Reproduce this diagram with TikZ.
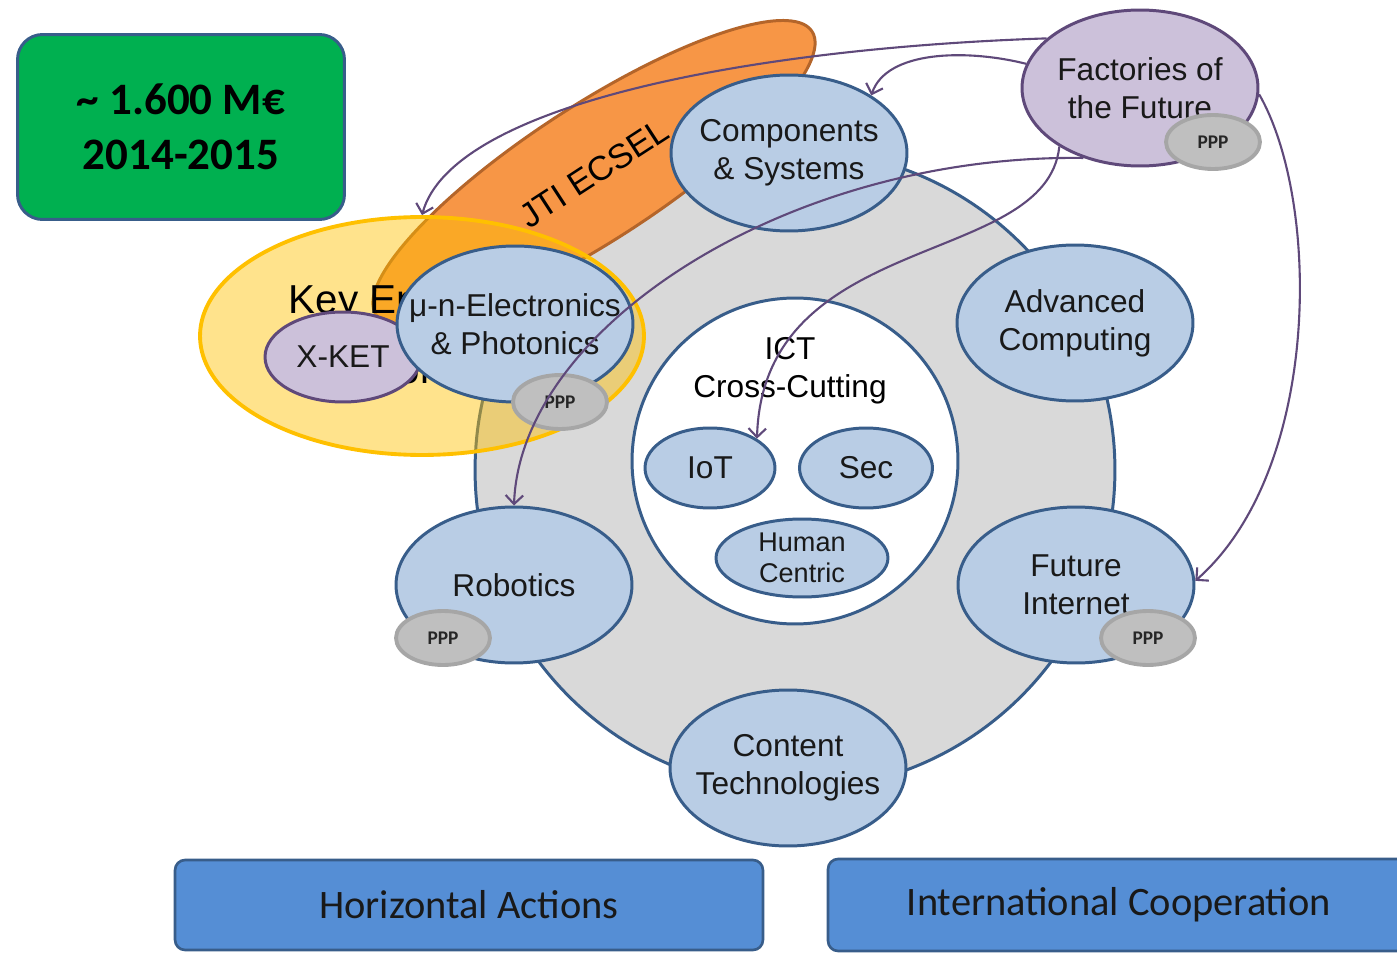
\documentclass[tikz,border=0pt]{standalone}
\usepackage{fontspec}
\setmainfont{Liberation Sans}
\newfontfamily\calibri{Carlito}
\usetikzlibrary{shapes.geometric,arrows.meta}

\definecolor{bblue}{HTML}{B9CDE5}
\definecolor{bline}{HTML}{385D8A}
\definecolor{lilac}{HTML}{CCC1DA}
\definecolor{lilacline}{HTML}{5F497A}
\definecolor{pppfill}{HTML}{BFBFBF}
\definecolor{pppline}{HTML}{A6A6A6}
\definecolor{ringgrey}{HTML}{D9D9D9}
\definecolor{jtiorange}{HTML}{F79646}
\definecolor{jtiline}{HTML}{B4652A}
\definecolor{ketyellow}{HTML}{FFC000}
\definecolor{budgetgreen}{HTML}{00B050}
\definecolor{actionblue}{HTML}{558ED5}

\begin{document}
\begin{tikzpicture}[x=0.02cm,y=-0.02cm,
        bubble/.style={ellipse,draw=bline,fill=bblue,line width=1.7pt,
            minimum width=4.72cm,minimum height=3.12cm,inner sep=-30pt,
            align=center,text=black!90,font=\fontsize{18}{21.5}\selectfont},
        lilacbubble/.style={bubble,draw=lilacline,fill=lilac},
        small/.style={bubble,minimum width=2.6cm,minimum height=1.6cm},
        ppp/.style={ellipse,draw=pppline,fill=pppfill,line width=2.2pt,
            minimum width=1.88cm,minimum height=1.08cm,inner sep=0pt,
            text=black!85,font=\calibri\bfseries\fontsize{11}{13}\selectfont},
        action/.style={rectangle,rounded corners=0.2cm,draw=bline,fill=actionblue,
            line width=1.5pt,minimum height=1.8cm,text=black!90,
            font=\calibri\fontsize{23}{27}\selectfont},
        link/.style={draw=lilacline,line width=1.2pt,
            -{Straight Barb[length=5pt,width=10pt]}}]
   \useasboundingbox (0,0) rectangle (1397,953);

   \node (budget) [rectangle,rounded corners=0.5cm,draw=bline,fill=budgetgreen,
        line width=1.7pt,minimum width=6.54cm,minimum height=3.7cm,align=center,
        font=\calibri\bfseries\fontsize{25.6}{31.3}\selectfont] at (181,127)
        {\textasciitilde{} 1.600 M€\\2014-2015};

   \node (ring) [circle,draw=bline,fill=ringgrey,line width=1.7pt,
        minimum size=12.8cm] at (795,470) {};
   \node (jti) [ellipse,draw=jtiline,fill=jtiorange,line width=1.7pt,
        minimum width=10.4cm,minimum height=2.7cm,rotate=33,
        font=\fontsize{19.5}{23}\selectfont] at (594,173) {JTI ECSEL};
   \node (ket) [ellipse,draw=ketyellow,fill=ketyellow,fill opacity=0.45,
        line width=2.2pt,minimum width=8.88cm,minimum height=4.76cm] at (422,336) {};
   \node (ketlbl) [align=center,font=\fontsize{23}{40}\selectfont] at (408,338)
        {Key Enabling\\Technologies};

   \node (ictc) [circle,draw=bline,fill=white,line width=1.7pt,
        minimum size=6.52cm] at (795,461) {};
   \node (ict) [align=center,font=\fontsize{18}{21.5}\selectfont] at (790,371)
        {ICT\\Cross-Cutting};
   \node (iot) [small] at (710,468) {IoT};
   \node (sec) [small,minimum width=2.66cm] at (866,468) {Sec};
   \node (hc) [small,minimum width=3.44cm,minimum height=1.56cm,
        font=\fontsize{15.4}{17.6}\selectfont] at (802,558) {Human\\Centric};

   \node (cs) [bubble] at (789,153) {Components\\\& Systems};
   \node (ac) [bubble] at (1075,323) {Advanced\\Computing};
   \node (fi) [bubble] at (1076,585) {Future\\Internet};
   \node (ct) [bubble] at (788,768) {Content\\Technologies};
   \node (rob) [bubble] at (514,585) {Robotics};
   \node (xket) [lilacbubble,minimum width=3.12cm,minimum height=1.8cm] at (343,357) {X-KET};
   \node (mne) [bubble] at (515,324) {μ-n-Electronics\\\& Photonics};
   \node (fof) [lilacbubble] at (1140,88) {Factories of\\the Future};

   \node (pfof) [ppp] at (1213,142) {PPP};
   \node (pmne) [ppp] at (560,402) {PPP};
   \node (prob) [ppp] at (443,638) {PPP};
   \node (pfi) [ppp] at (1148,638) {PPP};

   \node (ha) [action,minimum width=11.76cm] at (469,905) {Horizontal Actions};
   \node (ic) [action,minimum width=11.64cm,minimum height=1.84cm] at (1119,905)
        {International Cooperation};

   \draw[link] (fof.152) .. controls +(-300,10) and +(30,-110) .. (ket.north);
   \draw[link] (fof.168) .. controls +(-60,-15) and +(15,-45) .. (cs.35);
   \draw[link] (fof.231) .. controls +(-297,-4) and +(6,-177) .. (rob.north);
   \draw[link] (fof.216) .. controls +(-13,122) and +(6,-210) .. (iot.32);
   \draw[link] (fof.-3) .. controls +(62,108) and +(126,-111) .. (fi.2);
\end{tikzpicture}
\end{document}
